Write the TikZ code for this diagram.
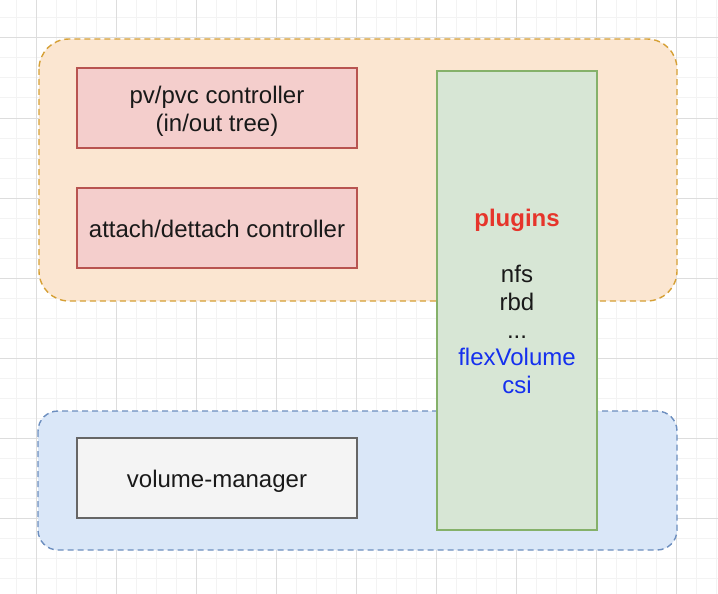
\documentclass[tikz,border=0pt]{standalone}
\usepackage{fontspec}
\setmainfont{Liberation Sans}
\definecolor{gridminor}{HTML}{F3F3F3}
\definecolor{gridmajor}{HTML}{DDDDDD}
\definecolor{orfill}{HTML}{FBE6D1}
\definecolor{ordraw}{HTML}{D6A035}
\definecolor{blfill}{HTML}{DAE7F8}
\definecolor{bldraw}{HTML}{6C8EBF}
\definecolor{rdfill}{HTML}{F4CECC}
\definecolor{rddraw}{HTML}{B85450}
\definecolor{gyfill}{HTML}{F4F4F4}
\definecolor{gydraw}{HTML}{666666}
\definecolor{grfill}{HTML}{D7E6D5}
\definecolor{grdraw}{HTML}{85B16A}
\definecolor{plugred}{HTML}{E6352B}
\definecolor{plugblue}{HTML}{1530EE}
\newcommand{\dnshift}[1]{\raisebox{-4pt}[\height][\depth]{\begin{tabular}{@{}c@{}}#1\end{tabular}}}
\tikzset{
  container/.style={line width=1.4pt, dash pattern=on 6pt off 4pt},
  boxnode/.style={draw, line width=1.5pt, minimum width=280pt, minimum height=80pt, inner sep=0pt, align=center, font=\fontsize{24}{28}\selectfont, text=black!90},
}
\begin{document}
\begin{tikzpicture}[x=1pt,y=-1pt]
\useasboundingbox (0,0) rectangle (718,594);
\fill[white] (0,0) rectangle (718,594);
% grid
\foreach \x in {16,36,...,716} \draw[gridminor, line width=1pt] (\x,0) -- (\x,594);
\foreach \y in {18,38,...,594} \draw[gridminor, line width=1pt] (0,\y) -- (718,\y);
\foreach \x in {36,116,...,716} \draw[gridmajor, line width=1pt] (\x,0) -- (\x,594);
\foreach \y in {38,118,...,594} \draw[gridmajor, line width=1pt] (0,\y) -- (718,\y);
% containers
\draw[container, fill=orfill, draw=ordraw, rounded corners=30pt] (39,39) rectangle (677,301);
\draw[container, fill=blfill, draw=bldraw, rounded corners=20pt] (38,411) rectangle (677,550);
% boxes
\node[boxnode, fill=rdfill, draw=rddraw] (pv) at (217,108) {\dnshift{pv/pvc controller\\(in/out tree)}};
\node[boxnode, fill=rdfill, draw=rddraw] (attach) at (217,228) {\dnshift{attach/dettach controller}};
\node[boxnode, fill=gyfill, draw=gydraw] (vm) at (217,478) {\dnshift{volume-manager}};
\node[draw=grdraw, fill=grfill, line width=1.5pt, minimum width=160pt, minimum height=459pt, inner sep=0pt] (plugins) at (517,300.5) {};
\node[align=center, font=\fontsize{24}{27.8}\selectfont, anchor=north] (plugtext) at (517,206)
  {\textcolor{plugred}{\textbf{plugins}}\\[0pt]\mbox{}\\ \textcolor{black!90}{nfs}\\ \textcolor{black!90}{rbd}\\ \textcolor{black!90}{...}\\ \textcolor{plugblue}{flexVolume}\\ \textcolor{plugblue}{csi}};
\end{tikzpicture}
\end{document}
